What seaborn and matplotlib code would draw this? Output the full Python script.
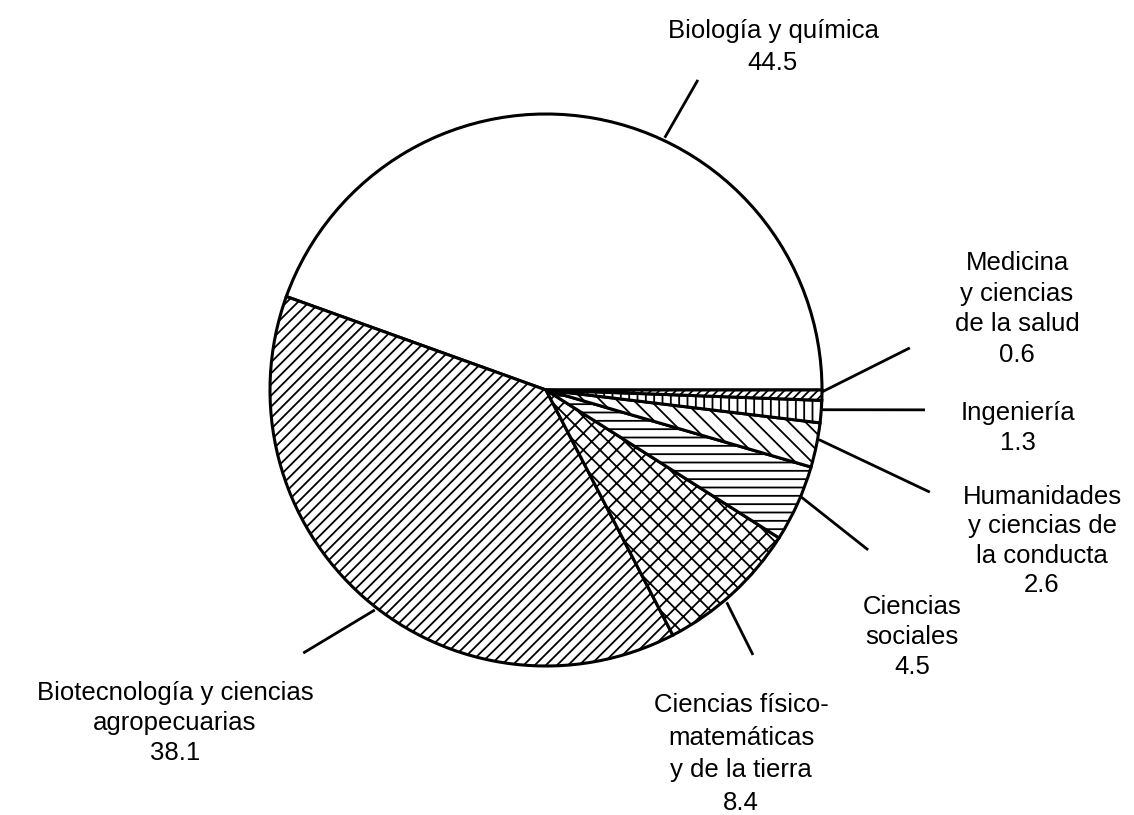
import numpy as np
import matplotlib
matplotlib.use("Agg")
import matplotlib.pyplot as plt
import seaborn as sns

# ---- data ----
categories = [
    "Biología y química",
    "Biotecnología y ciencias\nagropecuarias",
    "Ciencias físico-\nmatemáticas\ny de la tierra",
    "Ciencias\nsociales",
    "Humanidades\ny ciencias de\nla conducta",
    "Ingeniería",
    "Medicina\ny ciencias\nde la salud",
]
values = [44.5, 38.1, 8.4, 4.5, 2.6, 1.3, 0.6]
value_labels = ["44.5", "38.1", "8.4", "4.5", "2.6", "1.3", "0.6"]

# ---- style ----
sns.set_theme(style="white")
plt.rcParams["font.family"] = ["Liberation Sans", "DejaVu Sans"]
plt.rcParams["hatch.linewidth"] = 1.3
plt.rcParams["hatch.color"] = "black"

W, H = 1134, 815
CX, CY, R = 546, 390, 276  # pie centre / radius in pixels (layout)

def px(x, y):
    return (x - CX) / R, (CY - y) / R

fig = plt.figure(figsize=(W / 100, H / 100), dpi=100)
ax = fig.add_axes([0, 0, 1, 1])
x0, y0 = px(0, H)
x1, y1 = px(W, 0)

hatches = ["", "///", "xx", "--", "\\\\", "||", "////"]
wedges, _ = ax.pie(
    values,
    startangle=0,
    counterclock=True,
    colors=["white"] * len(values),
    radius=1.0,
    center=(0, 0),
    wedgeprops=dict(edgecolor="black", linewidth=2.2),
    frame=True,
)
for w, h in zip(wedges, hatches):
    w.set_hatch(h)
ax.set_xlim(x0, x1)
ax.set_ylim(y0, y1)
ax.set_aspect("equal")
ax.axis("off")

# leader lines: (start angle, start r, end angle, end r)
leaders = [
    (64.8, 1.01, 63.9, 1.251),
    (232.1, 1.01, 227.3, 1.297),
    (-49.6, 1.01, -52.0, 1.218),
    (-22.7, 1.0, -26.4, 1.303),
    (-10.3, 1.005, -14.9, 1.439),
    (-4.1, 1.0, -3.0, 1.375),
    (-0.4, 1.0, 6.6, 1.327),
]
for a0, r0, a1, r1 in leaders:
    t0, t1 = np.radians(a0), np.radians(a1)
    ax.plot([r0 * np.cos(t0), r1 * np.cos(t1)],
            [r0 * np.sin(t0), r1 * np.sin(t1)],
            color="black", lw=2.0, solid_capstyle="butt")

# label block centres in pixels and line spacing (layout)
label_pos = [
    (773, 47, 1.43),
    (175, 723, 1.34),
    (741, 754, 1.44),
    (912, 637, 1.31),
    (1042, 541, 1.28),
    (1018, 428, 1.32),
    (1017, 309, 1.34),
]
for cat, val, (lx, ly, ls) in zip(categories, value_labels, label_pos):
    x, y = px(lx, ly)
    ax.text(x, y, cat + "\n" + val, ha="center", va="center",
            multialignment="center", fontsize=18.5, linespacing=ls,
            color="black")

fig.savefig("out.png", dpi=100, facecolor="white")
